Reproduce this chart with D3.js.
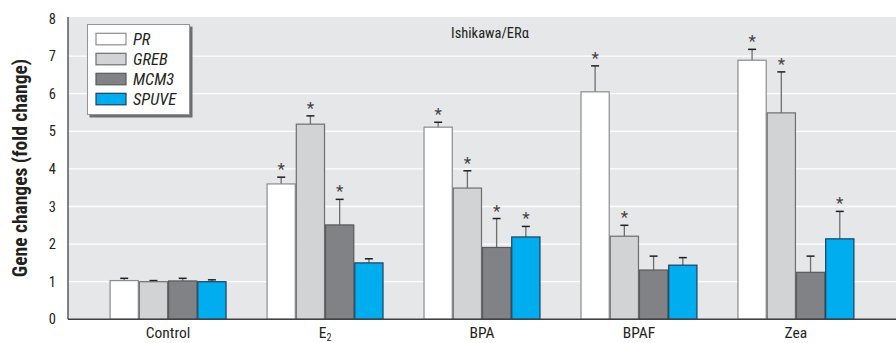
<!DOCTYPE html>
<html><head><meta charset="utf-8">
<script src="https://cdn.jsdelivr.net/npm/d3@7"></script>
<style>
body{margin:0;background:#fff;}
svg text{font-family:"Liberation Sans Narrow","Arial Narrow","Roboto Condensed","Liberation Sans",sans-serif;}
</style></head>
<body><svg id="c" width="896" height="343"></svg>
<script>
const categories = ["Control","E2","BPA","BPAF","Zea"];
const genes = ["PR","GREB","MCM3","SPUVE"];
const PR    = [1.03, 3.60, 5.11, 6.05, 6.89];
const GREB  = [1.00, 5.19, 3.49, 2.21, 5.49];
const MCM3  = [1.02, 2.51, 1.91, 1.31, 1.25];
const SPUVE = [1.00, 1.50, 2.19, 1.44, 2.14];
const PR_err    = [0.06, 0.18, 0.13, 0.69, 0.29];
const GREB_err  = [0.03, 0.22, 0.46, 0.29, 1.09];
const MCM3_err  = [0.07, 0.68, 0.77, 0.37, 0.43];
const SPUVE_err = [0.05, 0.11, 0.28, 0.20, 0.73];
const PR_sig    = [0,1,1,1,1];
const GREB_sig  = [0,1,1,1,1];
const MCM3_sig  = [0,1,1,0,0];
const SPUVE_sig = [0,0,1,0,1];
const yTicks = [0,1,2,3,4,5,6,7,8];
const title = "Ishikawa/ERα";
const yTitle = "Gene changes (fold change)";

const fills = ["#ffffff","#d2d3d5","#808285","#00adef"];
const strokes = ["#8c8c8c","#6d6e71","#58595b","#1d3f5e"];
const vals = [PR,GREB,MCM3,SPUVE], errs=[PR_err,GREB_err,MCM3_err,SPUVE_err], sigs=[PR_sig,GREB_sig,MCM3_sig,SPUVE_sig];

const svg = d3.select("#c");
const L=68, R=896, T=18.5, B=319.3;
const y = d3.scaleLinear().domain([0,8]).range([B,T]);
const x0 = d3.scaleBand().domain(categories).range([L,R]).paddingInner(0.255).paddingOuter(0.265);
const x1 = d3.scaleBand().domain(genes).range([0,x0.bandwidth()]);

// background
svg.append("rect").attr("x",L).attr("y",17).attr("width",R-L).attr("height",B-17).attr("fill","#e6e7e8");
// grid
svg.append("g").selectAll("line").data(yTicks.filter(d=>d>0&&d<8)).join("line")
  .attr("x1",L).attr("x2",R).attr("y1",d=>y(d)).attr("y2",d=>y(d))
  .attr("stroke","#ffffff").attr("stroke-width",1.3);

// bars
const data=[];
categories.forEach((c,i)=>genes.forEach((g,j)=>data.push({c,g,j,v:vals[j][i],e:errs[j][i],s:sigs[j][i]})));
const gb = svg.append("g");
data.forEach(d=>{
  const bx = x0(d.c)+x1(d.g), bw=x1.bandwidth();
  const cx = bx+bw/2;
  gb.append("line").attr("x1",cx).attr("x2",cx).attr("y1",y(d.v)).attr("y2",y(d.v+d.e))
    .attr("stroke","#6d6e71").attr("stroke-width",1.3);
  gb.append("line").attr("x1",cx-4).attr("x2",cx+4).attr("y1",y(d.v+d.e)).attr("y2",y(d.v+d.e))
    .attr("stroke","#231f20").attr("stroke-width",1.5);
  gb.append("rect").attr("x",bx+0.5).attr("y",y(d.v)).attr("width",bw-1).attr("height",B-y(d.v))
    .attr("fill",fills[d.j]).attr("stroke",strokes[d.j]).attr("stroke-width",1.2);
  if(d.s){
    gb.append("text").attr("x",cx).attr("y",y(d.v+d.e)-2).attr("text-anchor","middle")
      .attr("font-size",17).attr("fill","#414042").text("*");
  }
});

// axes
const ya = d3.axisLeft(y).tickValues(yTicks).tickSize(0).tickPadding(12);
const gy = svg.append("g").attr("transform",`translate(${L},0)`).call(ya);
gy.select(".domain").attr("stroke","#414042").attr("stroke-width",1.3).attr("d",`M0,17V${B}`);
gy.selectAll("text").attr("font-size",14.5).attr("fill","#231f20");
svg.append("line").attr("x1",L).attr("x2",R).attr("y1",B).attr("y2",B).attr("stroke","#414042").attr("stroke-width",1.5);

const xa = d3.axisBottom(x0).tickSize(0).tickPadding(8).tickFormat(d=>"");
const gx = svg.append("g").attr("transform",`translate(0,${B})`).call(xa);
gx.select(".domain").remove();
gx.selectAll(".tick").each(function(d){
  const t=d3.select(this).append("text").attr("y",19).attr("text-anchor","middle")
    .attr("font-size",15.5).attr("fill","#231f20");
  if(d==="E2"){t.append("tspan").text("E");t.append("tspan").attr("font-size",10).attr("dy",3).text("2");}
  else t.text(d);
});

// title
svg.append("text").attr("x",490).attr("y",38).attr("text-anchor","middle").attr("font-size",14.5).attr("fill","#231f20").text(title);
// y title
svg.append("text").attr("transform","translate(27,168) rotate(-90)").attr("text-anchor","middle")
  .attr("font-size",19.5).attr("font-weight","bold").attr("fill","#231f20").text(yTitle);

// legend
const lg = svg.append("g");
lg.append("rect").attr("x",89.5).attr("y",26.5).attr("width",103).attr("height",91).attr("fill","#6d6e71");
lg.append("rect").attr("x",87.5).attr("y",24.5).attr("width",102).attr("height",90).attr("fill","#fff").attr("stroke","#939598").attr("stroke-width",1);
genes.forEach((g,j)=>{
  const ry = 33.3 + j*20;
  lg.append("rect").attr("x",96).attr("y",ry).attr("width",30).attr("height",11.5)
    .attr("fill",fills[j]).attr("stroke",strokes[j]).attr("stroke-width",1.2);
  lg.append("text").attr("x",133).attr("y",ry+11.5).attr("font-size",16.5).attr("font-style","italic").attr("fill","#231f20").text(g);
});
</script></body></html>
